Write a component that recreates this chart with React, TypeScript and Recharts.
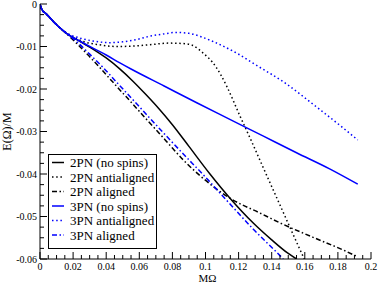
import { LineChart, Line, XAxis, YAxis, Legend } from 'recharts';

// [MΩ, E(Ω)/M] pairs
const pn2NoSpins: [number, number][] = [
  [0, 0], [0.001, -0.0012], [0.004, -0.0024], [0.01, -0.0049], [0.016, -0.0069],
  [0.024, -0.0088], [0.032, -0.0106], [0.04, -0.0127], [0.048, -0.0152], [0.056, -0.0181],
  [0.064, -0.0213], [0.072, -0.0247], [0.08, -0.0284], [0.09, -0.0335], [0.1027, -0.04],
  [0.1148, -0.0457], [0.129, -0.0516], [0.14, -0.0555], [0.15, -0.0587], [0.155, -0.06]
];

const pn2Anti: [number, number][] = [
  [0, 0], [0.001, -0.0012], [0.004, -0.0024], [0.01, -0.0049], [0.016, -0.0068],
  [0.026, -0.0088], [0.036, -0.0096], [0.046, -0.01], [0.056, -0.0099], [0.066, -0.0096],
  [0.078, -0.0092], [0.086, -0.0093], [0.092, -0.0097], [0.099, -0.0117], [0.104, -0.0136],
  [0.109, -0.0165], [0.113, -0.0195], [0.121, -0.0265], [0.127, -0.0316], [0.135, -0.0386],
  [0.145, -0.0473], [0.155, -0.056], [0.16, -0.0603]
];

const pn2Aligned: [number, number][] = [
  [0, 0], [0.001, -0.0012], [0.004, -0.0024], [0.01, -0.0049], [0.016, -0.007],
  [0.022, -0.0092], [0.03, -0.0124], [0.036, -0.0149], [0.042, -0.0175], [0.048, -0.0201],
  [0.056, -0.0235], [0.064, -0.027], [0.072, -0.0304], [0.08, -0.0339], [0.0866, -0.0367],
  [0.0967, -0.0404], [0.1148, -0.0457], [0.133, -0.0492], [0.145, -0.0515], [0.165, -0.0549],
  [0.185, -0.0582], [0.192, -0.0595]
];

const pn3NoSpins: [number, number][] = [
  [0, 0], [0.001, -0.0012], [0.004, -0.0024], [0.01, -0.0049], [0.016, -0.0069],
  [0.024, -0.0087], [0.032, -0.0104], [0.04, -0.012], [0.048, -0.0138], [0.055, -0.0153],
  [0.075, -0.0193], [0.095, -0.0233], [0.115, -0.0272], [0.135, -0.0311], [0.155, -0.035],
  [0.175, -0.0388], [0.192, -0.0424]
];

const pn3Anti: [number, number][] = [
  [0, 0], [0.001, -0.0012], [0.004, -0.0024], [0.01, -0.0049], [0.016, -0.0068],
  [0.024, -0.008], [0.032, -0.0087], [0.042, -0.0091], [0.05, -0.0089], [0.058, -0.0084],
  [0.066, -0.0076], [0.074, -0.0071], [0.082, -0.0067], [0.09, -0.0069], [0.098, -0.0078],
  [0.105, -0.0089], [0.119, -0.0116], [0.132, -0.0147], [0.147, -0.0183], [0.167, -0.0242],
  [0.182, -0.0288], [0.192, -0.032]
];

const pn3Aligned: [number, number][] = [
  [0, 0], [0.001, -0.0012], [0.004, -0.0024], [0.01, -0.0049], [0.016, -0.0069],
  [0.022, -0.0088], [0.03, -0.0118], [0.038, -0.0149], [0.0463, -0.0184], [0.0594, -0.0239],
  [0.075, -0.0305], [0.0866, -0.0353], [0.0987, -0.0402], [0.1128, -0.0462], [0.1289, -0.053],
  [0.145, -0.0592], [0.147, -0.06]
];

const xMajor = [0, 0.02, 0.04, 0.06, 0.08, 0.1, 0.12, 0.14, 0.16, 0.18, 0.2];
const xLabels = ['0', '0.02', '0.04', '0.06', '0.08', '0.1', '0.12', '0.14', '0.16', '0.18', '0.2'];
const yMajor = [0, -0.01, -0.02, -0.03, -0.04, -0.05, -0.06];
const yLabels = ['0', '-0.01', '-0.02', '-0.03', '-0.04', '-0.05', '-0.06'];

// 3 minor ticks between major ones
const withMinor = (major: number[]) =>
  major.flatMap((v, i) =>
    i === major.length - 1 ? [v] : [0, 1, 2, 3].map((k) => v + ((major[i + 1] - v) * k) / 4)
  );
const xTicks = withMinor(xMajor);
const yTicks = withMinor(yMajor);

const toPts = (arr: [number, number][]) => arr.map(([w, e]) => ({ w, e }));

const DOT = '1.5 2.7';
const DASHDOT = '5 2.5 1.5 2.5';

const series = [
  { name: '2PN (no spins)', data: pn2NoSpins, color: '#000000', dash: undefined },
  { name: '2PN antialigned', data: pn2Anti, color: '#000000', dash: DOT },
  { name: '2PN aligned', data: pn2Aligned, color: '#000000', dash: DASHDOT },
  { name: '3PN (no spins)', data: pn3NoSpins, color: '#0000ff', dash: undefined },
  { name: '3PN antialigned', data: pn3Anti, color: '#0000ff', dash: DOT },
  { name: '3PN aligned', data: pn3Aligned, color: '#0000ff', dash: DASHDOT }
];

const FONT =
  "'Liberation Serif', 'Times New Roman', Times, 'Nimbus Roman', 'Nimbus Roman No9 L', 'DejaVu Serif', 'Noto Serif', serif";
const TICK_FS = 10;
const txt = { fontFamily: FONT };

function makeTick(side: 'bottom' | 'top' | 'left' | 'right') {
  return function Tick(props: any) {
    const { x, y, index } = props;
    const major = index % 4 === 0;
    const len = major ? 7 : 4;
    let line;
    if (side === 'bottom') line = <line x1={x} x2={x} y1={y} y2={y - len} />;
    else if (side === 'top') line = <line x1={x} x2={x} y1={y} y2={y + len} />;
    else if (side === 'left') line = <line x1={x} x2={x + len} y1={y} y2={y} />;
    else line = <line x1={x} x2={x - len} y1={y} y2={y} />;
    return (
      <g stroke="#000" strokeWidth={1}>
        {line}
        {major && side === 'bottom' && (
          <text x={x} y={y + 11} textAnchor="middle" fontSize={TICK_FS} style={txt} stroke="none" fill="#000">
            {xLabels[index / 4]}
          </text>
        )}
        {major && side === 'left' && (
          <text x={x - 3} y={y + 3.5} textAnchor="end" fontSize={TICK_FS} style={txt} stroke="none" fill="#000">
            {yLabels[index / 4]}
          </text>
        )}
      </g>
    );
  };
}

function XLabel(props: any) {
  const { x, y, width } = props.viewBox;
  return (
    <text x={x + width / 2 + 2} y={y + 22.8} textAnchor="middle" fontSize={11} style={txt} fill="#000">
      MΩ
    </text>
  );
}

function YLabel(props: any) {
  const { y, height } = props.viewBox;
  return (
    <text
      transform={`translate(11, ${y + height / 2}) rotate(-90)`}
      textAnchor="middle"
      fontSize={12}
      style={txt}
      fill="#000"
    >
      E(Ω)/M
    </text>
  );
}

function LegendBox() {
  return (
    <svg width={110} height={96} style={{ display: 'block' }}>
      <rect x={0.5} y={0.5} width={108} height={94} fill="#fff" stroke="#000" strokeWidth={1} />
      {series.map((s, i) => {
        const cy = 8.5 + i * 14.5;
        return (
          <g key={s.name}>
            <line x1={4} x2={16} y1={cy} y2={cy} stroke={s.color} strokeWidth={1.5} strokeDasharray={s.dash} />
            <text x={22} y={cy + 4.5} fontSize={13} style={txt} fill="#000">
              {s.name}
            </text>
          </g>
        );
      })}
    </svg>
  );
}

export default function App() {
  return (
    <div style={{ position: 'absolute', left: 0, top: 0, width: 379, height: 284, background: '#fff' }}>
      <LineChart width={379} height={284} margin={{ top: 4, right: 8, left: 0, bottom: 0 }}>
        <XAxis
          xAxisId="b"
          dataKey="w"
          type="number"
          domain={[0, 0.2]}
          allowDataOverflow
          ticks={xTicks}
          interval={0}
          height={25}
          tickSize={0}
          tickMargin={0}
          tickLine={false}
          tick={makeTick('bottom')}
          axisLine={{ stroke: '#000' }}
          label={<XLabel />}
        />
        <XAxis
          xAxisId="t"
          orientation="top"
          dataKey="w"
          type="number"
          domain={[0, 0.2]}
          allowDataOverflow
          ticks={xTicks}
          interval={0}
          height={0}
          tickSize={0}
          tickMargin={0}
          tickLine={false}
          tick={makeTick('top')}
          axisLine={{ stroke: '#000' }}
        />
        <YAxis
          yAxisId="l"
          type="number"
          domain={[-0.06, 0]}
          allowDataOverflow
          ticks={yTicks}
          interval={0}
          width={40}
          tickSize={0}
          tickMargin={0}
          tickLine={false}
          tick={makeTick('left')}
          axisLine={{ stroke: '#000' }}
          label={<YLabel />}
        />
        <YAxis
          yAxisId="r"
          orientation="right"
          type="number"
          domain={[-0.06, 0]}
          allowDataOverflow
          ticks={yTicks}
          interval={0}
          width={0}
          tickSize={0}
          tickMargin={0}
          tickLine={false}
          tick={makeTick('right')}
          axisLine={{ stroke: '#000' }}
        />
        {series.map((s) => (
          <Line
            key={s.name}
            xAxisId="b"
            yAxisId="l"
            data={toPts(s.data)}
            dataKey="e"
            name={s.name}
            type="monotone"
            stroke={s.color}
            strokeWidth={1.5}
            strokeDasharray={s.dash}
            dot={false}
            activeDot={false}
            isAnimationActive={false}
          />
        ))}
        <Legend
          layout="vertical"
          align="center"
          verticalAlign="middle"
          wrapperStyle={{ left: 48, top: 154, width: 110, height: 96 }}
          content={() => <LegendBox />}
        />
      </LineChart>
    </div>
  );
}
